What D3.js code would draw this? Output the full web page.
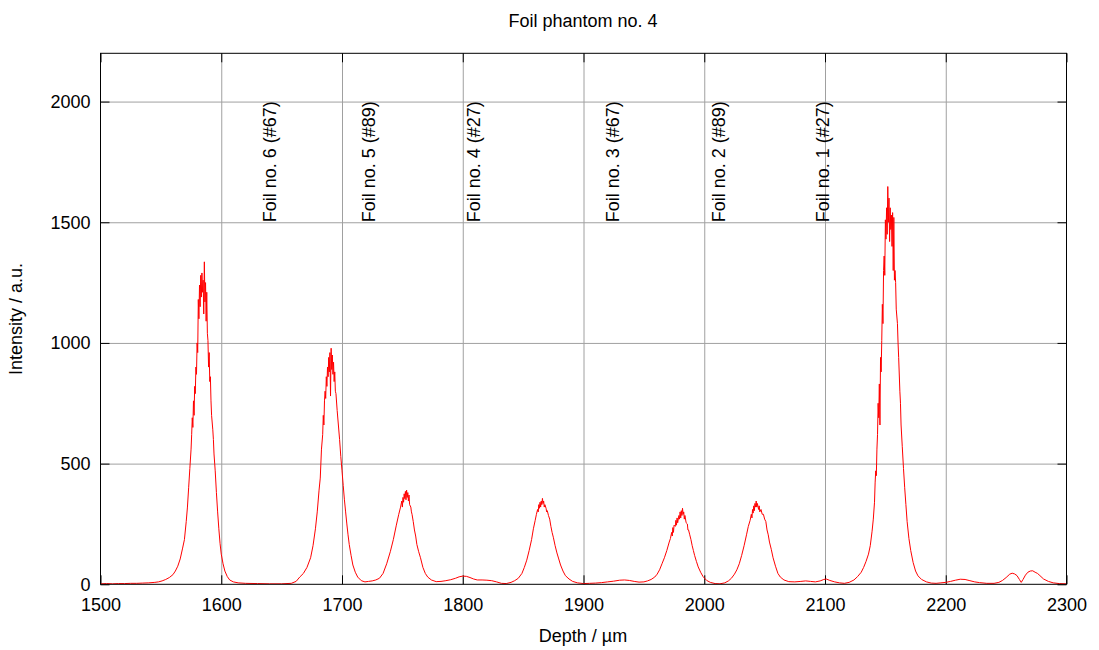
<!DOCTYPE html>
<html>
<head>
<meta charset="utf-8">
<script src="https://cdn.jsdelivr.net/npm/d3@7"></script>
<style>
    body { margin: 0; background: #fff; }
    svg { display: block; font-family: "Liberation Sans", Arial, sans-serif; }
</style>
</head>
<body>
<svg id="chart" width="1099" height="650"></svg>
<script>
// Depth profile (µm / a.u.)
const depthUm = [
    1500, 1505, 1510, 1515, 1520, 1525, 1530, 1535, 1540, 1545, 1548, 1551, 1554, 1557, 1560, 1562, 1564, 1566, 1568, 1569.5,
    1571, 1572, 1573, 1574, 1575, 1575.5, 1576, 1576.5, 1577, 1577.5, 1578, 1578.5, 1579, 1579.5, 1580, 1580.5, 1581, 1581.5, 1582, 1582.5,
    1583, 1583.5, 1584, 1584.5, 1585, 1585.5, 1586, 1586.5, 1587, 1587.5, 1588, 1588.5, 1589, 1589.5, 1590, 1590.5, 1591, 1591.5, 1592, 1593,
    1593.5, 1594, 1595, 1596, 1597, 1598, 1599, 1600, 1601.5, 1603, 1605, 1607, 1610, 1614, 1620, 1630, 1640, 1650, 1658, 1662,
    1665, 1668, 1671, 1674, 1676, 1678, 1679.5, 1681, 1682, 1683, 1684, 1684.5, 1685, 1685.5, 1686, 1686.5, 1687, 1687.5, 1688, 1688.5,
    1689, 1689.5, 1690, 1690.5, 1691, 1691.5, 1692, 1692.5, 1693, 1693.5, 1694, 1694.5, 1695, 1696, 1697, 1698, 1699, 1700, 1701, 1702,
    1703, 1704, 1705, 1706, 1707.5, 1709, 1711, 1713, 1716, 1719, 1722, 1725, 1728, 1731, 1734, 1737, 1740, 1742.5, 1745, 1747,
    1748.5, 1749.5, 1750, 1750.5, 1751, 1751.5, 1752, 1752.5, 1753, 1753.5, 1754, 1754.5, 1755, 1755.5, 1756, 1757, 1757.5, 1758, 1759, 1760,
    1761, 1762, 1763.5, 1765, 1767, 1769, 1771, 1774, 1778, 1782, 1786, 1790, 1794, 1797, 1800, 1803, 1806, 1809, 1812, 1816,
    1820, 1824, 1828, 1832, 1836, 1840, 1843, 1846, 1849, 1851, 1853, 1855, 1857, 1858.5, 1860, 1861, 1862, 1862.5, 1863, 1863.5,
    1864, 1864.5, 1865, 1865.5, 1866, 1866.5, 1867, 1867.5, 1868, 1869, 1869.5, 1870, 1871, 1872, 1873, 1874, 1875, 1876.5, 1878, 1879.5,
    1881, 1883, 1885, 1888, 1891, 1895, 1900, 1905, 1910, 1915, 1920, 1925, 1930, 1934, 1938, 1942, 1946, 1950, 1953, 1956,
    1959, 1961, 1963, 1965, 1967, 1969, 1971, 1972, 1973, 1973.5, 1974, 1974.5, 1975, 1976, 1976.5, 1977, 1977.5, 1978, 1979, 1979.5,
    1980, 1980.5, 1981, 1981.5, 1982, 1982.5, 1983, 1983.5, 1984, 1985, 1986, 1986.5, 1987, 1988, 1989, 1990, 1991, 1992, 1993.5, 1995,
    1997, 1999, 2002, 2005, 2009, 2013, 2017, 2020, 2022.5, 2025, 2027, 2029, 2031, 2033, 2035, 2036.5, 2038, 2039, 2039.5, 2040,
    2040.5, 2041, 2041.5, 2042, 2042.5, 2043, 2043.5, 2044, 2045, 2045.5, 2046, 2047, 2048, 2049, 2050, 2051, 2052, 2053, 2054, 2055.5,
    2057, 2059, 2061, 2063, 2066, 2070, 2075, 2080, 2084, 2088, 2092, 2096, 2099, 2101, 2104, 2108, 2112, 2116, 2120, 2124,
    2127, 2130, 2132, 2134, 2136, 2137.5, 2139, 2140, 2141, 2141.5, 2142, 2142.5, 2143, 2143.5, 2144, 2144.5, 2145, 2145.5, 2146, 2146.5,
    2147, 2147.5, 2148, 2148.5, 2149, 2149.5, 2150, 2150.5, 2151, 2151.5, 2152, 2152.5, 2153, 2153.5, 2154, 2154.5, 2155, 2155.5, 2156, 2156.5,
    2157, 2157.5, 2158, 2158.5, 2159, 2160, 2160.5, 2161, 2162, 2162.5, 2163, 2164, 2165, 2166, 2167, 2168, 2169.5, 2171, 2173, 2175,
    2177, 2180, 2184, 2188, 2192, 2196, 2200, 2204, 2208, 2212, 2216, 2220, 2224, 2228, 2234, 2240, 2244, 2247, 2250, 2253,
    2255, 2257, 2259, 2261, 2262.5, 2264, 2266, 2268, 2270, 2272, 2274, 2276, 2278, 2281, 2285, 2289, 2294, 2300
];
const intensityAU = [
    2, 3, 2, 3, 3, 4, 4, 5, 6, 8, 10, 14, 20, 28, 40, 55, 75, 105, 150, 185,
    260, 320, 400, 480, 560, 620, 690, 650, 760, 700, 820, 790, 900, 870, 1000, 960, 1180, 1100, 1240, 1150,
    1280, 1190, 1290, 1210, 1260, 1120, 1336, 1170, 1250, 1090, 1210, 1040, 1010, 900, 960, 840, 860, 760, 700, 640,
    600, 540, 470, 380, 300, 230, 170, 125, 85, 55, 32, 18, 10, 6, 4, 3, 2, 2, 4, 12,
    30, 45, 70, 110, 160, 230, 300, 390, 440, 560, 620, 700, 660, 760, 800, 770, 860, 820, 900, 860,
    940, 880, 960, 780, 978, 890, 950, 870, 920, 840, 880, 800, 790, 720, 660, 600, 530, 470, 410, 350,
    300, 250, 205, 165, 120, 80, 50, 30, 15, 10, 12, 14, 18, 25, 45, 85, 135, 185, 245, 290,
    320, 345, 320, 360, 340, 375, 355, 385, 350, 390, 360, 380, 345, 370, 330, 320, 300, 290, 260, 225,
    200, 165, 135, 110, 70, 45, 30, 18, 11, 12, 15, 19, 25, 31, 34, 33, 28, 22, 18, 18,
    17, 15, 10, 4, 3, 8, 15, 25, 45, 70, 100, 140, 185, 230, 265, 290, 310, 300, 330, 315,
    340, 320, 345, 330, 356, 335, 345, 320, 330, 315, 300, 305, 285, 270, 240, 215, 195, 160, 130, 105,
    80, 55, 36, 22, 12, 6, 3, 4, 5, 7, 10, 13, 17, 18, 16, 12, 9, 10, 14, 20,
    30, 42, 60, 85, 110, 140, 175, 190, 215, 200, 235, 215, 245, 240, 265, 245, 275, 255, 285, 270,
    300, 275, 305, 285, 315, 290, 300, 270, 285, 255, 250, 225, 225, 205, 185, 160, 140, 120, 95, 72,
    50, 32, 16, 8, 3, 2, 6, 14, 25, 42, 60, 85, 120, 160, 205, 240, 265, 290, 275, 310,
    295, 325, 305, 335, 320, 345, 320, 335, 310, 325, 300, 310, 290, 290, 270, 260, 225, 205, 175, 145,
    110, 75, 45, 30, 18, 11, 10, 12, 14, 12, 10, 14, 20, 22, 16, 10, 6, 4, 8, 18,
    32, 50, 70, 95, 125, 160, 220, 270, 340, 420, 470, 450, 560, 620, 750, 690, 830, 660, 940, 880,
    1010, 1160, 1080, 1300, 1360, 1280, 1510, 1430, 1560, 1450, 1648, 1500, 1600, 1420, 1560, 1470, 1530, 1400, 1540, 1300,
    1520, 1260, 1300, 1250, 1140, 1080, 1000, 940, 800, 750, 660, 570, 480, 400, 330, 260, 190, 140, 90, 55,
    35, 20, 10, 5, 4, 6, 8, 12, 17, 21, 20, 15, 10, 7, 4, 4, 8, 16, 28, 42,
    46, 43, 36, 20, 8, 20, 38, 50, 55, 56, 50, 45, 36, 22, 12, 6, 3, 2
];
const xTicks = [1500, 1600, 1700, 1800, 1900, 2000, 2100, 2200, 2300];
const yTicks = [0, 500, 1000, 1500, 2000];
const foilLabels = ['Foil no. 6 (#67)', 'Foil no. 5 (#89)', 'Foil no. 4 (#27)', 'Foil no. 3 (#67)', 'Foil no. 2 (#89)', 'Foil no. 1 (#27)'];
const foilDepths = [1645, 1727, 1814, 1929, 2017, 2103];
const foilLabelLevel = 1500;

const margin = {left: 100.5, right: 1066.5, top: 53.3, bottom: 584.3};
const svg = d3.select('#chart');

const x = d3.scaleLinear().domain([1500, 2300]).range([margin.left, margin.right]);
const y = d3.scaleLinear().domain([0, 2200]).range([margin.bottom, margin.top]);
const plotW = margin.right - margin.left;
const plotH = margin.bottom - margin.top;

//Grid
const innerX = xTicks.slice(1, -1);
const innerY = yTicks.slice(1);
svg.append('g')
    .attr('transform', `translate(0,${margin.bottom})`)
    .call(d3.axisBottom(x).tickValues(innerX).tickSize(-plotH).tickFormat(''))
    .call(g => g.select('.domain').remove())
    .call(g => g.selectAll('line').attr('stroke', '#a0a0a0').attr('stroke-width', 1));
svg.append('g')
    .attr('transform', `translate(${margin.left},0)`)
    .call(d3.axisLeft(y).tickValues(innerY).tickSize(-plotW).tickFormat(''))
    .call(g => g.select('.domain').remove())
    .call(g => g.selectAll('line').attr('stroke', '#a0a0a0').attr('stroke-width', 1));

//Axes with inward ticks, mirrored on top/right
const fontPx = 18;
const styleAxis = g => {
    g.select('.domain').remove();
    g.selectAll('line').attr('stroke', '#000').attr('stroke-width', 1);
    g.selectAll('text').attr('fill', '#000').style('font-size', fontPx + 'px')
        .style('font-family', '"Liberation Sans", Arial, sans-serif');
};
svg.append('g')
    .attr('transform', `translate(0,${margin.bottom})`)
    .call(d3.axisBottom(x).tickValues(xTicks).tickSize(-9).tickPadding(14).tickFormat(d3.format('d')))
    .call(styleAxis);
svg.append('g')
    .attr('transform', `translate(0,${margin.top})`)
    .call(d3.axisTop(x).tickValues(xTicks).tickSize(-9).tickFormat(''))
    .call(styleAxis);
svg.append('g')
    .attr('transform', `translate(${margin.left},0)`)
    .call(d3.axisLeft(y).tickValues(yTicks).tickSize(-9).tickPadding(10).tickFormat(d3.format('d')))
    .call(styleAxis);
svg.append('g')
    .attr('transform', `translate(${margin.right},0)`)
    .call(d3.axisRight(y).tickValues(yTicks).tickSize(-9).tickFormat(''))
    .call(styleAxis);

//Foil labels
svg.append('g')
    .selectAll('text')
    .data(foilLabels)
    .join('text')
    .attr('transform', (d, i) => `translate(${x(foilDepths[i])},${y(foilLabelLevel)}) rotate(-90)`)
    .attr('text-anchor', 'start')
    .style('font-size', fontPx + 'px')
    .attr('fill', '#000')
    .text(d => d);

//Data
svg.append('clipPath').attr('id', 'plotClip')
    .append('rect')
    .attr('x', margin.left).attr('y', margin.top)
    .attr('width', plotW).attr('height', plotH);

const points = depthUm.map((d, i) => [d, intensityAU[i]]);
const line = d3.line().x(d => x(d[0])).y(d => y(d[1]));
svg.append('path')
    .datum(points)
    .attr('clip-path', 'url(#plotClip)')
    .attr('fill', 'none')
    .attr('stroke', '#ff0000')
    .attr('stroke-width', 1)
    .attr('d', line);

//Border
svg.append('rect')
    .attr('x', margin.left).attr('y', margin.top)
    .attr('width', plotW).attr('height', plotH)
    .attr('fill', 'none')
    .attr('stroke', '#000')
    .attr('stroke-width', 1);

//Titles
svg.append('text')
    .attr('x', 583).attr('y', 27)
    .attr('text-anchor', 'middle')
    .style('font-size', fontPx + 'px')
    .text('Foil phantom no. 4');
svg.append('text')
    .attr('x', 583).attr('y', 642)
    .attr('text-anchor', 'middle')
    .style('font-size', fontPx + 'px')
    .text('Depth / µm');
svg.append('text')
    .attr('transform', 'translate(22,319) rotate(-90)')
    .attr('text-anchor', 'middle')
    .style('font-size', fontPx + 'px')
    .text('Intensity / a.u.');
</script>
</body>
</html>
